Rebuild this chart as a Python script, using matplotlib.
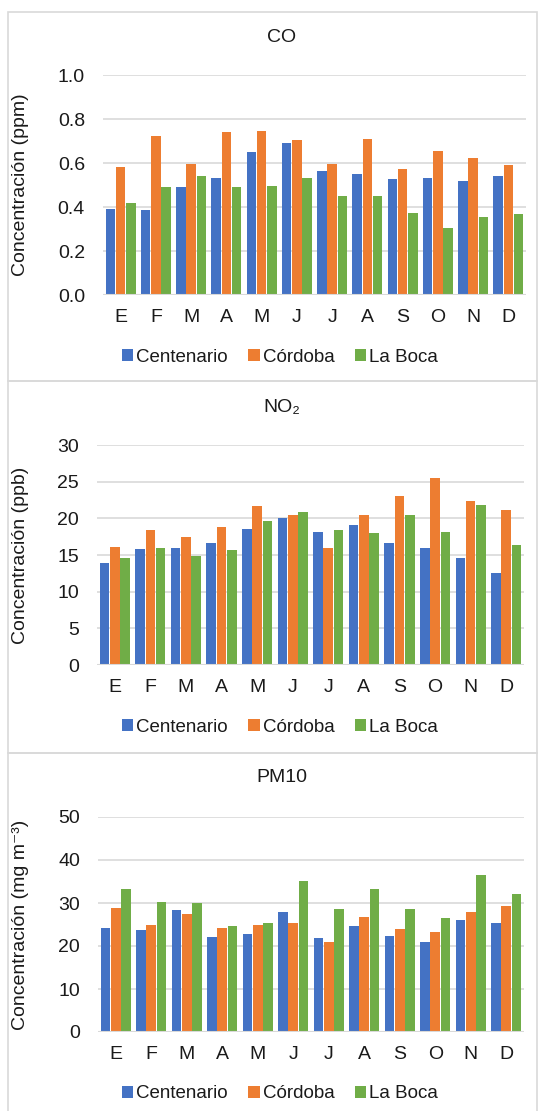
import numpy as np
import matplotlib
matplotlib.use('Agg')
from matplotlib import pyplot as plt
from matplotlib.patches import Rectangle

plt.rcParams['font.family'] = ['Liberation Sans', 'DejaVu Sans']

meses = ['E', 'F', 'M', 'A', 'M', 'J', 'J', 'A', 'S', 'O', 'N', 'D']
estaciones = ['Centenario', 'Córdoba', 'La Boca']
colores = ['#4472C4', '#ED7D31', '#70AD47']

# CO (ppm)
co_centenario = [0.39, 0.386, 0.489, 0.533, 0.65, 0.691, 0.564, 0.55, 0.526, 0.53, 0.52, 0.542]
co_cordoba = [0.583, 0.724, 0.594, 0.742, 0.747, 0.706, 0.594, 0.711, 0.574, 0.653, 0.624, 0.589]
co_laboca = [0.42, 0.489, 0.541, 0.489, 0.497, 0.53, 0.452, 0.452, 0.373, 0.306, 0.355, 0.367]

# NO2 (ppb)
no2_centenario = [13.95, 15.8, 15.9, 16.6, 18.6, 20.1, 18.2, 19.1, 16.6, 16.0, 14.6, 12.5]
no2_cordoba = [16.1, 18.4, 17.4, 18.8, 21.7, 20.5, 15.9, 20.4, 23.0, 25.5, 22.3, 21.2]
no2_laboca = [14.6, 15.9, 14.9, 15.7, 19.7, 20.8, 18.4, 18.0, 20.5, 18.2, 21.8, 16.4]

# PM10 (mg m-3)
pm_centenario = [24.2, 23.7, 28.3, 22.2, 22.8, 28.0, 21.8, 24.7, 22.4, 21.0, 26.0, 25.4]
pm_cordoba = [28.9, 24.9, 27.4, 24.3, 25.0, 25.3, 21.0, 26.8, 24.0, 23.3, 28.0, 29.3]
pm_laboca = [33.2, 30.2, 30.0, 24.7, 25.4, 35.2, 28.7, 33.2, 28.5, 26.4, 36.5, 32.1]

W, H = 541, 1111
fig = plt.figure(figsize=(W / 100, H / 100), dpi=100)

gris = '#d9d9d9'
texto = '#1a1a1a'

# marcos de cada panel
for top, bottom in [(12, 381), (381, 753), (753, 1116)]:
    fig.add_artist(Rectangle((8 / W, 1 - bottom / H), (537 - 8) / W, (bottom - top) / H,
                             transform=fig.transFigure, fill=False, edgecolor=gris, lw=1.2))


def panel(box, titulo, ylabel, series, ymax, paso, fmt, y_titulo, y_leyenda):
    left, top, right, bottom = box
    ax = fig.add_axes([left / W, 1 - bottom / H, (right - left) / W, (bottom - top) / H])
    x = np.arange(len(meses))
    for i, (vals, c) in enumerate(zip(series, colores)):
        ax.bar(x + (i - 1) * 0.29, vals, width=0.27, color=c, label=estaciones[i], zorder=2)
    ax.set_xlim(-0.5, len(meses) - 0.5)
    ax.set_ylim(0, ymax)
    ticks = np.arange(0, ymax + paso / 2, paso)
    ax.set_yticks(ticks)
    ax.set_yticklabels([fmt.format(t) for t in ticks])
    ax.set_xticks(x)
    ax.set_xticklabels(meses)
    ax.tick_params(length=0, labelsize=14, colors=texto)
    ax.tick_params(axis='y', pad=13)
    ax.tick_params(axis='x', pad=10)
    for s in ax.spines.values():
        s.set_visible(False)
    ax.grid(axis='y', color=gris, lw=1.2, zorder=0)
    ax.axhline(0, color=gris, lw=1.5, zorder=3)
    ax.set_ylabel(ylabel, fontsize=14, color=texto)
    ax.yaxis.set_label_coords((29 - left) / (right - left), 0.5)
    fig.text(282 / W, 1 - y_titulo / H, titulo, ha='center', va='center', fontsize=14, color=texto)
    ax.legend(loc='center', bbox_to_anchor=(280 / W, 1 - y_leyenda / H), bbox_transform=fig.transFigure,
              ncol=3, frameon=False, fontsize=13.5, handlelength=0.6, handleheight=0.6,
              handletextpad=0.15, columnspacing=1.1, labelcolor=texto)
    return ax


panel((103, 75, 526, 295), 'CO', 'Concentración (ppm)',
      [co_centenario, co_cordoba, co_laboca], 1.0, 0.2, '{:.1f}', 37, 357)
panel((97, 445, 524, 665), 'NO₂', 'Concentración (ppb)',
      [no2_centenario, no2_cordoba, no2_laboca], 30, 5, '{:.0f}', 408, 727)
panel((98, 817, 524, 1032), 'PM10', 'Concentración (mg m⁻³)',
      [pm_centenario, pm_cordoba, pm_laboca], 50, 10, '{:.0f}', 777, 1094)

fig.savefig('out.png', dpi=100, facecolor='white')
